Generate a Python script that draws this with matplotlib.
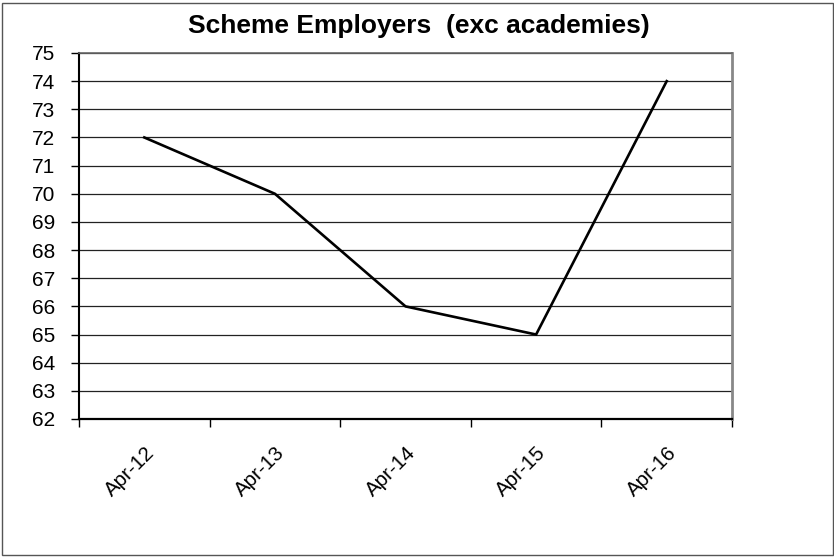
"""Scheme employers line chart."""

import matplotlib
matplotlib.use("Agg")
import matplotlib.pyplot as plt
import matplotlib.transforms as mtransforms
from matplotlib.patches import Rectangle

plt.rcParams['font.family'] = ['Liberation Sans', 'DejaVu Sans']

months = ["Apr-12", "Apr-13", "Apr-14", "Apr-15", "Apr-16"]
employers = [72, 70, 66, 65, 74]
y_ticks = list(range(62, 76))

W, H = 834, 557
fig = plt.figure(figsize=(W / 100, H / 100), dpi=100)

# outer chart border
fig.patches.append(Rectangle((1.5 / W, 2.5 / H), (W - 3) / W, (H - 5) / H,
                             transform=fig.transFigure, fill=False,
                             edgecolor='#555555', linewidth=1.0))

ax = fig.add_axes([79 / W, 1 - 419 / H, (732 - 79) / W, (419 - 53) / H])
x = list(range(len(months)))
ax.plot(x, employers, color='black', linewidth=1.9, solid_joinstyle='miter', zorder=3)

ax.set_xlim(-0.5, len(months) - 0.5)
ax.set_ylim(y_ticks[0], y_ticks[-1])
ax.set_yticks(y_ticks)
ax.yaxis.grid(True, color='#222222', linewidth=0.9)
ax.tick_params(axis='y', direction='out', length=6, width=1, pad=11,
               labelsize=15, color='black')

# category boundaries carry the ticks, centres carry the labels
ax.set_xticks([i - 0.5 for i in range(len(months) + 1)])
ax.set_xticklabels([])
ax.set_xticks(x, minor=True)
ax.set_xticklabels(months, minor=True, rotation=45, ha='right',
                   va='center', rotation_mode='anchor')
ax.tick_params(axis='x', which='major', direction='out', length=6, width=1,
               color='black')
ax.tick_params(axis='x', which='minor', length=0, labelsize=14.8, pad=0)
shift = mtransforms.ScaledTranslation(7 / 100, -31 / 100, fig.dpi_scale_trans)
for lbl in ax.xaxis.get_minorticklabels():
    lbl.set_transform(lbl.get_transform() + shift)

ax.spines['left'].set_linewidth(1.5)
ax.spines['bottom'].set_linewidth(1.6)
ax.spines['top'].set_color('#666666')
ax.spines['top'].set_linewidth(1.2)
ax.spines['right'].set_color('#888888')
ax.spines['right'].set_linewidth(2.0)
ax.set_axisbelow(True)

fig.text(419 / W, 1 - 33 / H, "Scheme Employers  (exc academies)",
         ha='center', va='baseline', fontsize=19, fontweight='bold')

fig.savefig("out.png", dpi=100)
